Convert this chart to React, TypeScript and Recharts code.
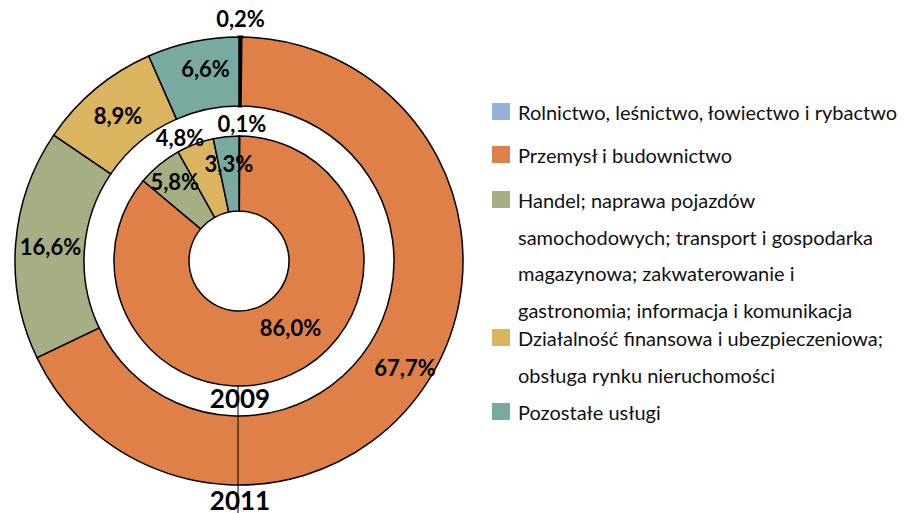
import { PieChart, Pie, Cell, Legend } from 'recharts';

const categories = [
  'Rolnictwo, leśnictwo, łowiectwo i rybactwo',
  'Przemysł i budownictwo',
  'Handel; naprawa pojazdów samochodowych; transport i gospodarka magazynowa; zakwaterowanie i gastronomia; informacja i komunikacja',
  'Działalność finansowa i ubezpieczeniowa; obsługa rynku nieruchomości',
  'Pozostałe usługi',
];
const legendLines = [
  ['Rolnictwo, leśnictwo, łowiectwo i rybactwo'],
  ['Przemysł i budownictwo'],
  ['Handel; naprawa pojazdów', 'samochodowych; transport i gospodarka', 'magazynowa; zakwaterowanie i', 'gastronomia; informacja i komunikacja'],
  ['Działalność finansowa i ubezpieczeniowa;', 'obsługa rynku nieruchomości'],
  ['Pozostałe usługi'],
];
const values2011 = [0.2, 67.7, 16.6, 8.9, 6.6];
const values2009 = [0.1, 86.0, 5.8, 4.8, 3.3];
const years = ['2009', '2011'];

const colors = ['#95B3D7', '#DF8049', '#A6AE84', '#DAB45F', '#79AAA0'];

const outerData = categories.map((name, i) => ({ name, value: values2011[i] }));
const innerData = categories.map((name, i) => ({ name, value: values2009[i] }));

// label placement tweaks: [radius, angle shift in degrees]
const outerLabelPos = [[243, 0], [197, 0], [189, 0], [189, 0], [195, -2]];
const innerLabelPos = [[138, -1], [84, 13], [102, -0.6], [137, 5], [98, 0]];

const CX = 239;
const CY = 261;
const RAD = Math.PI / 180;
const fmt = (v: number) => v.toFixed(1).replace('.', ',') + '%';

const makeLabel = (pos: number[][]) => (props: any) => {
  const { cx, cy, midAngle, index, value } = props;
  const [r, shift] = pos[index];
  const a = (midAngle + shift) * RAD;
  const x = cx + r * Math.cos(a);
  const y = cy - r * Math.sin(a);
  return (
    <text x={x} y={y} textAnchor="middle" dominantBaseline="central" fontFamily="Lato" fontWeight="bold" fontSize={22} fill="#000">
      {fmt(value)}
    </text>
  );
};

const legendTop = [112, 155, 200, 338, 412];

const renderLegend = () => (
  <div style={{ position: 'relative', width: 420, height: 430, fontFamily: 'Lato', fontSize: 20, color: '#111' }}>
    {legendLines.map((lines, i) => (
      <div key={categories[i]} style={{ position: 'absolute', left: 0, top: legendTop[i] - 18 }}>
        <div style={{ position: 'absolute', left: 0, top: 9, width: 18, height: 17, background: colors[i] }} />
        {lines.map((l) => (
          <div key={l} style={{ marginLeft: 26, height: 36.7, lineHeight: '36.7px', whiteSpace: 'nowrap' }}>{l}</div>
        ))}
      </div>
    ))}
  </div>
);

export default function App() {
  return (
    <div style={{ position: 'absolute', left: 0, top: 0, width: 904, height: 513, background: '#fff' }}>
      <PieChart width={904} height={513} margin={{ top: 0, right: 0, bottom: 0, left: 0 }}>
        <Pie
          data={outerData}
          dataKey="value"
          nameKey="name"
          cx={CX}
          cy={CY}
          innerRadius={155}
          outerRadius={224}
          startAngle={90}
          endAngle={-270}
          stroke="#000"
          strokeWidth={1.5}
          label={makeLabel(outerLabelPos)}
          labelLine={false}
          isAnimationActive={false}
        >
          {outerData.map((d, i) => (
            <Cell key={d.name} fill={colors[i]} strokeWidth={i === 0 ? 3 : 1.5} />
          ))}
        </Pie>
        <Pie
          data={innerData}
          dataKey="value"
          nameKey="name"
          cx={CX}
          cy={CY}
          innerRadius={50}
          outerRadius={125}
          startAngle={90}
          endAngle={-270}
          stroke="#000"
          strokeWidth={1.5}
          label={makeLabel(innerLabelPos)}
          labelLine={false}
          legendType="none"
          isAnimationActive={false}
        >
          {innerData.map((d, i) => (
            <Cell key={d.name} fill={colors[i]} />
          ))}
        </Pie>
        <Legend content={renderLegend} wrapperStyle={{ position: 'absolute', left: 492, top: 0, width: 420 }} />
      </PieChart>
      {/* year captions and the divider sit over the rings */}
      <svg width={904} height={513} style={{ position: 'absolute', left: 0, top: 0, pointerEvents: 'none' }}>
        <line x1={238} y1={385} x2={238} y2={513} stroke="#000" strokeWidth={1} />
        <text x={240} y={398} textAnchor="middle" dominantBaseline="central" fontFamily="Lato" fontWeight="bold" fontSize={26} fill="#000">
          {years[0]}
        </text>
        <text x={240} y={500} textAnchor="middle" dominantBaseline="central" fontFamily="Lato" fontWeight="bold" fontSize={26} fill="#000">
          {years[1]}
        </text>
      </svg>
    </div>
  );
}
